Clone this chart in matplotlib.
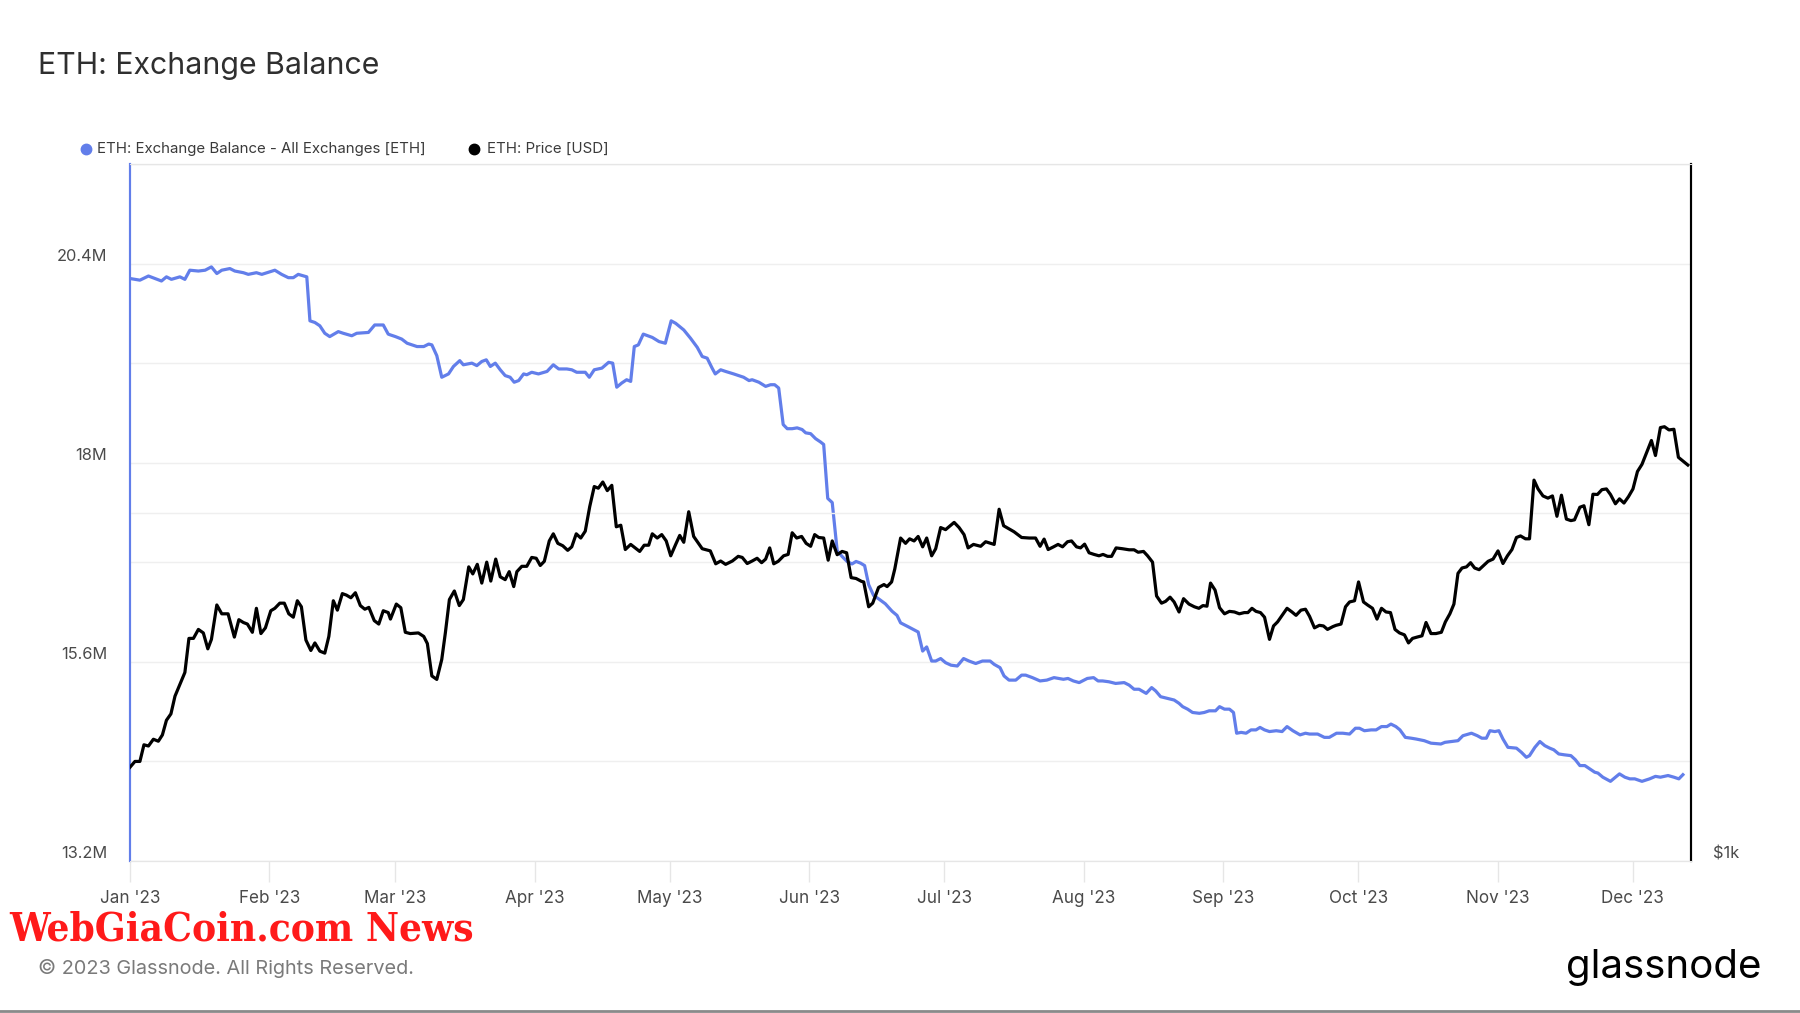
import numpy as np
import pandas as pd
import matplotlib
matplotlib.use("Agg")
import matplotlib.pyplot as plt
import matplotlib.dates as mdates
from matplotlib.lines import Line2D
from matplotlib.transforms import blended_transform_factory

# ---------------- data ----------------
START = "2023-01-01"

# ETH exchange balance, millions of ETH; x = days since START
balance_day = [
    0.0, 2.2, 4.1, 7.0, 8.1, 9.2, 11.1, 12.2, 13.3, 15.2, 16.7, 18.1, 19.3, 20.4, 22.2, 23.3, 25.2, 26.3, 28.1, 29.3,
    32.2, 33.7, 35.2, 36.3, 37.4, 39.3, 40.0, 41.1, 42.2, 43.3, 44.4, 46.3, 47.4, 49.3, 50.4, 53.0, 54.4, 56.3, 57.4,
    57.9, 59.0, 60.4, 61.6, 63.8, 65.3, 66.4, 67.1, 68.2, 69.3, 70.8, 71.9, 73.3, 74.1, 76.0, 77.1, 78.2, 79.2, 80.1, 81.2,
    82.3, 83.4, 84.5, 85.4, 86.4, 87.5, 88.2, 89.3, 90.8, 92.7, 94.1, 95.3, 97.1, 98.2, 99.3, 101.2, 102.1, 103.2, 104.9, 106.4,
    107.3, 108.2, 109.3, 110.4, 111.3, 112.1, 113.0, 114.1, 115.6,
    116.1, 117.6, 119.0, 120.3, 121.3, 123.1, 124.6, 126.1, 127.2, 128.3, 129.4, 130.1, 131.3, 132.4, 134.2, 135.3, 136.4, 137.6, 138.3, 139.8,
    141.3, 142.4, 143.3, 144.2, 145.2, 146.1, 147.2, 148.3, 149.4, 150.2, 151.3, 152.4, 153.5, 154.2, 155.1, 156.1, 157.2, 158.3, 159.4, 160.5,
    161.4, 162.4, 163.3, 164.2, 165.3, 166.4, 167.9, 169.4, 170.5, 171.3, 173.1,
    175.2, 176.2, 177.1, 178.2, 179.1, 180.2, 181.3, 182.5, 183.9, 185.3, 186.5, 188.0, 189.5, 191.2, 192.1, 193.4, 194.3, 195.4, 196.9, 198.2,
    199.1, 200.6, 202.3, 203.8, 205.4, 207.5, 208.5, 209.7, 211.0, 212.8, 214.2, 215.2, 216.2, 217.6, 219.1, 221.0, 222.1, 223.2, 224.3, 225.9,
    227.1, 228.0, 229.1, 230.6, 232.1, 233.2,
    234.0, 235.1, 236.2, 237.7, 238.8, 239.9, 241.3, 242.2, 243.3, 244.4, 245.3, 246.0, 247.0, 248.1, 249.2, 250.3, 251.2, 252.2, 253.3, 254.8,
    256.1, 257.2, 258.5, 260.1, 261.3, 262.2, 264.0, 265.5, 266.6, 268.2, 269.6, 271.1, 272.4, 273.3, 274.4, 275.9, 277.0, 278.2, 279.4, 280.3,
    281.4, 282.3, 283.5, 284.8, 285.9, 287.7, 289.2, 291.4,
    292.3, 293.7, 295.2, 296.3, 298.2, 299.5, 300.5, 301.5, 302.3, 303.4, 304.3, 305.2, 306.3, 308.2, 309.3, 310.4, 311.1, 312.3, 313.4, 314.5,
    315.6, 316.5, 317.6, 318.8, 320.3, 321.3, 322.3, 323.4, 324.5, 325.6, 326.3, 327.4, 329.1, 330.2, 331.1, 332.3, 333.4, 334.5, 336.1, 337.8,
    339.1, 340.2, 341.9, 343.2, 344.3, 345.2,
]
balance_m = [
    20.22, 20.20, 20.25, 20.19, 20.24, 20.21, 20.24, 20.21, 20.32, 20.31, 20.32, 20.36, 20.28, 20.32, 20.34, 20.31, 20.29, 20.27, 20.29, 20.27,
    20.32, 20.27, 20.23, 20.23, 20.27, 20.24, 19.71, 19.69, 19.65, 19.56, 19.52, 19.58, 19.56, 19.53, 19.56, 19.57, 19.66, 19.66, 19.55,
    19.54, 19.52, 19.49, 19.44, 19.40, 19.40, 19.43, 19.42, 19.29, 19.03, 19.07, 19.16, 19.23, 19.18, 19.20, 19.17, 19.22, 19.24, 19.16, 19.20,
    19.12, 19.05, 19.03, 18.97, 18.99, 19.07, 19.06, 19.09, 19.07, 19.10, 19.18, 19.13, 19.13, 19.12, 19.09, 19.09, 19.03, 19.12, 19.14, 19.21,
    19.20, 18.91, 18.96, 19.00, 18.98, 19.40, 19.42, 19.55, 19.52,
    19.51, 19.46, 19.44, 19.71, 19.68, 19.60, 19.50, 19.39, 19.28, 19.26, 19.14, 19.07, 19.12, 19.10, 19.07, 19.05, 19.03, 18.99, 19.00, 18.97,
    18.92, 18.94, 18.94, 18.90, 18.46, 18.41, 18.41, 18.42, 18.40, 18.36, 18.35, 18.29, 18.25, 18.22, 17.57, 17.52, 16.94, 16.87, 16.81, 16.78,
    16.81, 16.79, 16.76, 16.53, 16.40, 16.36, 16.30, 16.21, 16.16, 16.07, 16.02,
    15.96, 15.73, 15.78, 15.61, 15.61, 15.64, 15.59, 15.56, 15.55, 15.64, 15.61, 15.58, 15.61, 15.61, 15.57, 15.53, 15.43, 15.38, 15.38, 15.44,
    15.44, 15.41, 15.37, 15.38, 15.41, 15.39, 15.40, 15.37, 15.35, 15.40, 15.41, 15.37, 15.37, 15.36, 15.34, 15.35, 15.32, 15.27, 15.27, 15.22,
    15.29, 15.25, 15.18, 15.16, 15.14, 15.10,
    15.06, 15.03, 14.99, 14.98, 14.99, 15.01, 15.01, 15.06, 15.03, 15.03, 14.99, 14.74, 14.75, 14.74, 14.78, 14.78, 14.81, 14.78, 14.76, 14.77,
    14.76, 14.82, 14.77, 14.72, 14.74, 14.73, 14.73, 14.69, 14.69, 14.74, 14.74, 14.73, 14.80, 14.80, 14.77, 14.78, 14.78, 14.82, 14.82, 14.85,
    14.82, 14.78, 14.69, 14.68, 14.67, 14.65, 14.62, 14.61,
    14.63, 14.64, 14.65, 14.71, 14.74, 14.71, 14.68, 14.68, 14.77, 14.76, 14.77, 14.67, 14.57, 14.56, 14.51, 14.45, 14.47, 14.57, 14.64, 14.59,
    14.56, 14.54, 14.49, 14.48, 14.47, 14.42, 14.35, 14.35, 14.31, 14.27, 14.26, 14.21, 14.16, 14.21, 14.25, 14.21, 14.19, 14.19, 14.16, 14.19,
    14.22, 14.21, 14.23, 14.21, 14.19, 14.24,
]

# ETH price, USD; x = days since START
price_day = [
    0.0, 1.1, 2.2, 3.1, 4.1, 5.2, 6.3, 7.2, 8.1, 9.1, 10.0, 10.7, 12.2, 13.1, 14.1, 15.2, 16.3, 17.3, 18.1, 19.3,
    20.4, 21.8, 23.2, 24.2, 25.2, 26.1, 27.2, 28.1, 29.1, 30.1, 31.3, 32.2, 33.3, 34.3, 35.3, 36.3, 37.2, 38.1, 39.1, 40.2,
    41.1, 42.2, 43.3, 44.2, 45.2, 46.1, 47.2, 48.1, 49.1, 50.1, 51.2, 52.2, 53.1, 54.3, 55.3, 56.3, 57.4,
    57.9, 59.2, 60.2, 61.2, 62.3, 64.1, 65.3, 66.1, 67.1, 68.2, 69.3, 70.1, 71.0, 72.1, 73.2, 74.1, 75.3, 76.2, 77.2, 78.2,
    79.3, 80.2, 81.3, 82.3, 83.4, 84.3, 85.3, 86.0, 87.1, 88.2, 89.3, 90.3, 91.2, 92.1, 93.2, 94.1, 95.1, 96.2, 97.3, 98.2,
    99.2, 100.2, 101.2, 102.2, 103.2, 104.1, 105.1, 106.1, 107.1, 108.1, 109.1, 110.1, 111.3, 112.3, 113.3, 114.3, 115.3,
    116.1, 117.2, 118.2, 119.2, 120.2, 121.3, 122.2, 123.1, 124.2, 125.3, 127.2, 129.0, 130.2, 131.3, 132.4, 133.9, 135.2, 136.1, 137.2, 138.3,
    139.4, 140.4, 141.3, 142.2, 143.1, 144.1, 145.3, 146.3, 147.2, 148.2, 149.3, 150.3, 151.3, 152.2, 153.1, 154.2, 155.2, 156.1, 157.2, 158.3,
    159.3, 160.3, 161.4, 162.6, 163.1, 164.2, 165.1, 166.4, 167.6, 168.3, 169.3, 170.0, 171.3, 172.4, 173.3,
    174.3, 175.2, 176.2, 177.1, 178.2, 179.1, 180.2, 181.3, 183.2, 184.3, 185.4, 186.3, 187.5, 189.1, 190.2, 192.1, 193.2, 194.2, 196.5, 198.2,
    199.9, 201.3, 202.3, 203.2, 204.1, 205.3, 206.3, 207.3, 208.4, 209.3, 210.4, 211.3, 212.2, 213.2, 214.3, 215.4, 216.3, 217.3, 218.2, 219.2,
    220.6, 222.1, 223.2, 224.1, 225.3, 226.2, 227.3, 228.2, 229.3, 230.2, 231.2, 232.1, 233.2,
    234.2, 235.4, 236.6, 237.6, 238.5, 239.4, 240.2, 241.2, 242.2, 243.3, 244.4, 245.5, 246.6, 247.7, 248.5, 249.4, 250.3, 251.3, 252.2, 253.3,
    254.2, 255.1, 256.1, 257.2, 258.3, 259.2, 260.3, 261.3, 262.2, 263.3, 264.4, 265.3, 266.2, 267.4, 268.1, 269.2, 270.2, 271.1, 272.2, 273.1,
    274.2, 275.1, 276.2, 277.2, 278.2, 279.2, 280.2, 281.2, 282.2, 283.3, 284.2, 285.1, 286.1, 287.2, 288.1, 289.2, 290.3,
    291.5, 292.4, 293.4, 294.3, 295.2, 296.1, 297.1, 298.0, 298.9, 299.9, 300.9, 301.9, 303.0, 304.1, 305.2, 306.2, 307.2, 308.2, 309.1, 310.2,
    311.1, 312.1, 313.0, 314.1, 315.2, 316.2, 317.2, 318.2, 319.3, 320.3, 321.1, 322.3, 323.2, 324.3, 325.2, 326.2, 327.2, 328.2, 329.1, 330.2,
    331.1, 332.1, 333.1, 334.1, 335.1, 336.1, 337.1, 338.2, 339.1, 340.2, 341.1, 342.1, 343.2, 344.2, 345.2, 346.3,
]
price_usd = [
    1205, 1219, 1219, 1260, 1257, 1274, 1269, 1285, 1323, 1340, 1388, 1409, 1455, 1557, 1557, 1585, 1574, 1525, 1554, 1664,
    1635, 1635, 1561, 1616, 1607, 1602, 1576, 1653, 1572, 1590, 1645, 1653, 1670, 1670, 1635, 1624, 1678, 1658, 1552, 1520,
    1543, 1518, 1512, 1563, 1678, 1647, 1702, 1697, 1688, 1705, 1662, 1650, 1656, 1613, 1602, 1645, 1639,
    1618, 1667, 1655, 1576, 1572, 1574, 1563, 1541, 1445, 1435, 1493, 1574, 1682, 1711, 1662, 1682, 1795, 1770, 1804, 1738,
    1812, 1745, 1823, 1760, 1750, 1778, 1726, 1778, 1797, 1797, 1829, 1826, 1800, 1815, 1890, 1917, 1881, 1872, 1855, 1868,
    1917, 1901, 1927, 2024, 2106, 2099, 2125, 2089, 2111, 1944, 1950, 1858, 1877, 1864, 1851, 1874, 1874,
    1917, 1901, 1914, 1890, 1835, 1877, 1911, 1885, 2003, 1907, 1861, 1853, 1806, 1816, 1804, 1816, 1833, 1829, 1807, 1816,
    1826, 1810, 1823, 1864, 1806, 1815, 1835, 1840, 1921, 1901, 1907, 1881, 1870, 1914, 1903, 1901, 1819, 1890, 1839, 1851,
    1846, 1757, 1754, 1744, 1742, 1658, 1670, 1723, 1733, 1726, 1742, 1787, 1901, 1881, 1898,
    1890, 1907, 1868, 1901, 1835, 1861, 1941, 1933, 1961, 1941, 1914, 1864, 1877, 1870, 1887, 1877, 2013, 1948, 1925, 1903,
    1901, 1901, 1870, 1897, 1858, 1868, 1877, 1868, 1887, 1890, 1868, 1864, 1878, 1846, 1840, 1835, 1840, 1833, 1833, 1864,
    1861, 1857, 1857, 1848, 1851, 1835, 1812, 1694, 1670, 1676, 1690, 1674, 1641,
    1685, 1667, 1658, 1653, 1662, 1660, 1738, 1714, 1655, 1635, 1643, 1641, 1635, 1639, 1639, 1653, 1643, 1639, 1624, 1554,
    1596, 1609, 1630, 1653, 1641, 1630, 1647, 1650, 1627, 1590, 1598, 1596, 1585, 1594, 1598, 1602, 1658, 1674, 1678, 1742,
    1674, 1664, 1653, 1618, 1653, 1641, 1639, 1585, 1574, 1568, 1543, 1557, 1561, 1565, 1607, 1572, 1572,
    1576, 1609, 1635, 1667, 1772, 1791, 1795, 1810, 1791, 1785, 1800, 1815, 1823, 1853, 1807, 1835, 1858, 1903, 1909, 1898,
    1898, 2133, 2096, 2067, 2058, 2067, 1985, 2070, 1974, 1968, 1971, 2021, 2027, 1952, 2074, 2073, 2093, 2096, 2073, 2035,
    2055, 2038, 2064, 2096, 2170, 2201, 2251, 2308, 2240, 2368, 2372, 2357, 2360, 2232, 2216, 2198,
]

month_ticks = ["2023-01-01", "2023-02-01", "2023-03-01", "2023-04-01", "2023-05-01", "2023-06-01",
               "2023-07-01", "2023-08-01", "2023-09-01", "2023-10-01", "2023-11-01", "2023-12-01"]
month_labels = ["Jan '23", "Feb '23", "Mar '23", "Apr '23", "May '23", "Jun '23",
                "Jul '23", "Aug '23", "Sep '23", "Oct '23", "Nov '23", "Dec '23"]
left_grid = [13.2, 14.4, 15.6, 16.8, 18.0, 19.2, 20.4, 21.6]
left_labels = {13.2: "13.2M", 15.6: "15.6M", 18.0: "18M", 20.4: "20.4M"}
right_grid = [2000]
right_labels = {1000: "$1k"}

# ---------------- style ----------------
BLUE = "#627EEA"
FONT = ["Inter", "DejaVu Sans"]
plt.rcParams["font.family"] = FONT

fig = plt.figure(figsize=(18, 10.13), dpi=100)
ax = fig.add_axes([130 / 1800, 1 - 861 / 1013, (1691 - 130) / 1800, (861 - 164) / 1013])
ax2 = ax.twinx()

t0 = pd.Timestamp(START)
bal_dates = (t0 + pd.to_timedelta(balance_day, unit="D")).to_numpy()
px_dates = (t0 + pd.to_timedelta(price_day, unit="D")).to_numpy()

ax.plot(bal_dates, balance_m, color=BLUE, lw=2.3, solid_joinstyle="round", zorder=3)
ax2.plot(px_dates, price_usd, color="black", lw=2.3, solid_joinstyle="round", zorder=3)

ax.set_xlim(t0, t0 + pd.Timedelta(days=347))
ax.set_ylim(13.2, 21.6)
ax2.set_yscale("log")
ax2.set_ylim(1000, 4000)

# grid
for v in left_grid:
    ax.axhline(v, color="#efefef", lw=1.0, zorder=0)
for v in right_grid:
    ax2.axhline(v, color="#efefef", lw=1.0, zorder=0)

ax.set_yticks([])
ax2.set_yticks([])
ax2.yaxis.set_minor_locator(matplotlib.ticker.NullLocator())

tr_l = blended_transform_factory(ax.transAxes, ax.transData)
for v, s in left_labels.items():
    ax.text(-0.0147, v, s, transform=tr_l, ha="right", va="bottom",
            fontsize=11.8, color="#4a4a4a")
tr_r = blended_transform_factory(ax2.transAxes, ax2.transData)
for v, s in right_labels.items():
    ax2.text(1.0141, v, s, transform=tr_r, ha="left", va="bottom",
             fontsize=11.8, color="#4a4a4a")

ax.set_xticks(pd.to_datetime(month_ticks).to_numpy())
ax.set_xticklabels(month_labels)
ax.tick_params(axis="x", length=15, width=1, color="#e6e6e6", pad=6,
               labelsize=12.3, labelcolor="#4a4a4a")

for a in (ax, ax2):
    a.spines["top"].set_color("#e6e6e6")
    a.spines["bottom"].set_color("#e6e6e6")
    a.spines["left"].set_color(BLUE)
    a.spines["left"].set_linewidth(1.5)
    a.spines["right"].set_color("black")
    a.spines["right"].set_linewidth(1.5)

# title
fig.text(38 / 1800, 1 - 66 / 1013, "ETH: Exchange Balance", fontsize=21.8,
         color="#2f2f2f", ha="left", va="center")

# legend
ly = 1 - 149 / 1013
fig.add_artist(Line2D([86 / 1800], [ly], marker="o", color=BLUE, markersize=7.5,
                      transform=fig.transFigure))
fig.text(97 / 1800, ly, "ETH: Exchange Balance - All Exchanges [ETH]", fontsize=10.8,
         color="#3a3a3a", ha="left", va="center")
fig.add_artist(Line2D([474 / 1800], [ly], marker="o", color="black", markersize=7.5,
                      transform=fig.transFigure))
fig.text(487 / 1800, ly, "ETH: Price [USD]", fontsize=10.8,
         color="#3a3a3a", ha="left", va="center")

# watermark + footer
fig.text(9 / 1800, 1 - 929 / 1013, "WebGiaCoin.com News", fontsize=29, color="#ff1a1a",
         fontweight="bold", family=["DejaVu Serif", "DejaVu Sans"], fontstretch="condensed",
         ha="left", va="center")
fig.text(38 / 1800, 1 - 968 / 1013, "\u00a9 2023 Glassnode. All Rights Reserved.",
         fontsize=14.3, color="#7a7a7a", ha="left", va="center")
fig.text(1762 / 1800, 1 - 967 / 1013, "glassnode", fontsize=29, color="black",
         fontweight="normal", ha="right", va="center")
fig.add_artist(Line2D([0, 1], [0.0015, 0.0015], color="#8a8a8a", lw=2,
                      transform=fig.transFigure))

fig.savefig("out.png", dpi=100, facecolor="white")
